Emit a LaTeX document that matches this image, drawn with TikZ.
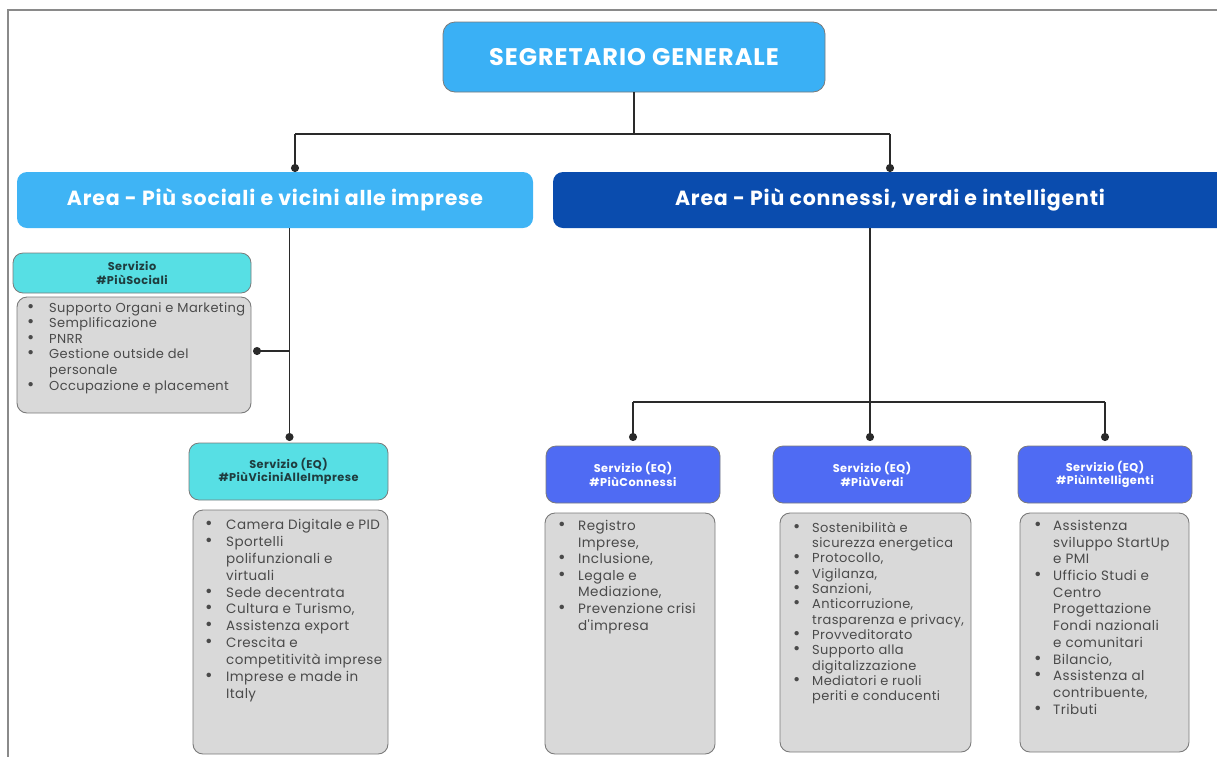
\documentclass[tikz,border=0pt]{standalone}
\usepackage{fontspec}
\setmainfont{Poppins}
\newfontfamily\wide[LetterSpace=4]{Poppins}
\newfontfamily\widel[LetterSpace=3]{Poppins}
\usetikzlibrary{calc,arrows.meta}
\definecolor{sgblue}{HTML}{3AB0F5}
\definecolor{areaLc}{HTML}{3FB4F5}
\definecolor{areaRc}{HTML}{0A4CAE}
\definecolor{eqblue}{HTML}{4F6BF3}
\definecolor{cyanbox}{HTML}{57DFE4}
\definecolor{graybox}{HTML}{D9D9D9}
\definecolor{grayedge}{HTML}{7A7A7A}
\definecolor{listtext}{HTML}{4A4A4A}
\definecolor{headtext}{HTML}{1F3D3F}
\definecolor{framec}{HTML}{8A8A8A}
\definecolor{linec}{HTML}{2A2A2A}
\newlength\bulw
\newcommand\bl{\makebox[\bulw][l]{\scalebox{1.35}{\textbullet}}}
\newcommand\il{\makebox[\bulw]{}}
\begin{document}
\begin{tikzpicture}[x=1pt,y=-1pt,
  base/.style={anchor=north west, outer sep=0pt, inner sep=0pt, rounded corners=10pt},
  topbox/.style={base, fill=sgblue, draw=grayedge, line width=0.8pt, rounded corners=12pt,
     text=white, font=\wide\fontsize{24}{28}\selectfont\bfseries},
  areabox/.style={base, text=white, font=\wide\fontsize{20.5}{24}\selectfont\bfseries},
  cyanhead/.style={base, fill=cyanbox, draw=grayedge, line width=0.8pt, align=center,
     text=headtext, font=\wide\fontsize{11.3}{13.5}\selectfont\bfseries},
  bluehead/.style={base, fill=eqblue, draw=grayedge, line width=0.8pt, align=center,
     text=white, font=\wide\fontsize{11.3}{13.5}\selectfont\bfseries},
  listbox/.style={base, fill=graybox, draw=grayedge, line width=0.9pt},
  listtxt/.style={anchor=north west, inner sep=0pt, align=left, text=listtext},
  conn/.style={draw=linec, line width=1.6pt},
  dotted end/.style={-{Circle[length=8pt,width=8pt]}}
]
\useasboundingbox (0,0) rectangle (1217,756);
\clip (0,0) rectangle (1217,756);
% frame
\draw[framec, line width=1.2pt] (8,760) -- (8,10) -- (1222,10);

% top
\node[topbox, minimum width=382pt, minimum height=70pt] (sg) at (443,22) {SEGRETARIO GENERALE};

% areas
\node[areabox, fill=areaLc, minimum width=516pt, minimum height=56pt] (areaL) at (17,172) {Area - Più sociali e vicini alle imprese};
\node[areabox, fill=areaRc, minimum width=674pt, minimum height=56pt] (areaR) at (553,172) {Area - Più connessi, verdi e intelligenti};

% left services
\node[cyanhead, minimum width=238pt, minimum height=40pt] (h1) at (13,253) {Servizio\\\#PiùSociali};
\node[listbox, minimum width=234pt, minimum height=116pt] (l1) at (17,297) {};
\node[cyanhead, minimum width=199pt, minimum height=57pt] (h2) at (189,443) {Servizio (EQ)\\\#PiùViciniAlleImprese};
\node[listbox, minimum width=195pt, minimum height=244pt] (l2) at (193,510) {};

% right services
\node[bluehead, minimum width=174pt, minimum height=57pt] (h3) at (546,446) {Servizio (EQ)\\\#PiùConnessi};
\node[listbox, minimum width=170pt, minimum height=241pt] (l3) at (545,513) {};
\node[bluehead, minimum width=198pt, minimum height=57pt] (h4) at (773,446) {Servizio (EQ)\\\#PiùVerdi};
\node[listbox, minimum width=191pt, minimum height=239pt] (l4) at (780,513) {};
\node[bluehead, minimum width=174pt, minimum height=57pt] (h5) at (1018,446) {Servizio (EQ)\\\#PiùIntelligenti};
\node[listbox, minimum width=169pt, minimum height=239pt] (l5) at (1020,513) {};

% list texts
\setlength\bulw{22pt}
\node[listtxt, font=\widel\fontsize{13}{15.6}\selectfont] (t1) at ($(l1.north west)+(10,5)$)
 {\bl Supporto Organi e Marketing\\\bl Semplificazione\\\bl PNRR\\\bl Gestione outside del\\\il personale\\\bl Occupazione e placement};
\setlength\bulw{21pt}
\node[listtxt, font=\widel\fontsize{13.5}{16.9}\selectfont] (t2) at ($(l2.north west)+(12,9)$)
 {\bl Camera Digitale e PID\\\bl Sportelli\\\il polifunzionali e\\\il virtuali\\\bl Sede decentrata\\\bl Cultura e Turismo,\\\bl Assistenza export\\\bl Crescita e\\\il competitività imprese\\\bl Imprese e made in\\\il Italy};
\setlength\bulw{20pt}
\node[listtxt, font=\widel\fontsize{13.5}{16.6}\selectfont] (t3) at ($(l3.north west)+(13,7)$)
 {\bl Registro\\\il Imprese,\\\bl Inclusione,\\\bl Legale e\\\il Mediazione,\\\bl Prevenzione crisi\\\il d'impresa};
\setlength\bulw{19pt}
\node[listtxt, font=\widel\fontsize{13}{15.3}\selectfont] (t4) at ($(l4.north west)+(13,9)$)
 {\bl Sostenibilità e\\\il sicurezza energetica\\\bl Protocollo,\\\bl Vigilanza,\\\bl Sanzioni,\\\bl Anticorruzione,\\\il trasparenza e privacy,\\\bl Provveditorato\\\bl Supporto alla\\\il digitalizzazione\\\bl Mediatori e ruoli\\\il periti e conducenti};
\setlength\bulw{19pt}
\node[listtxt, font=\widel\fontsize{13.5}{16.7}\selectfont] (t5) at ($(l5.north west)+(14,7)$)
 {\bl Assistenza\\\il sviluppo StartUp\\\il e PMI\\\bl Ufficio Studi e\\\il Centro\\\il Progettazione\\\il Fondi nazionali\\\il e comunitari\\\bl Bilancio,\\\bl Assistenza al\\\il contribuente,\\\bl Tributi};

% connectors: top
\coordinate (j0) at ($(sg.south)+(0,42)$);
\coordinate (jL) at (295,134);
\coordinate (jR) at (890,134);
\draw[conn] (sg.south) -- (j0);
\draw[conn] (jL) -- (jR);
\draw[conn, dotted end] (jL) -- (jL |- areaL.north) ;
\draw[conn, dotted end] (jR) -- (jR |- areaR.north);

% left branch
\coordinate (lb) at ($(areaL.south -| h2.north)+(1,0)$);
\coordinate (lside) at ($(lb |- l1.east)+(0,-4)$);
\draw[conn, dotted end] (lb) -- ($(lb |- h2.north)+(0,-2)$);
\draw[conn, dotted end] (lside) -- ($(l1.east)+(2,-4)$);

% right branch
\coordinate (rb) at ($(areaR.south -| h4.north)+(-2,0)$);
\coordinate (rbj) at ($(rb |- h4.north)+(0,-44)$);
\draw[conn] (rb) -- (rbj);
\draw[conn] (rbj -| h3.north) -- (rbj -| h5.north);
\draw[conn, dotted end] (rbj -| h3.north) -- ($(h3.north)+(0,-5)$);
\draw[conn, dotted end] (rbj) -- ($(rb |- h4.north)+(0,-5)$);
\draw[conn, dotted end] (rbj -| h5.north) -- ($(h5.north)+(0,-5)$);
\end{tikzpicture}
\end{document}
